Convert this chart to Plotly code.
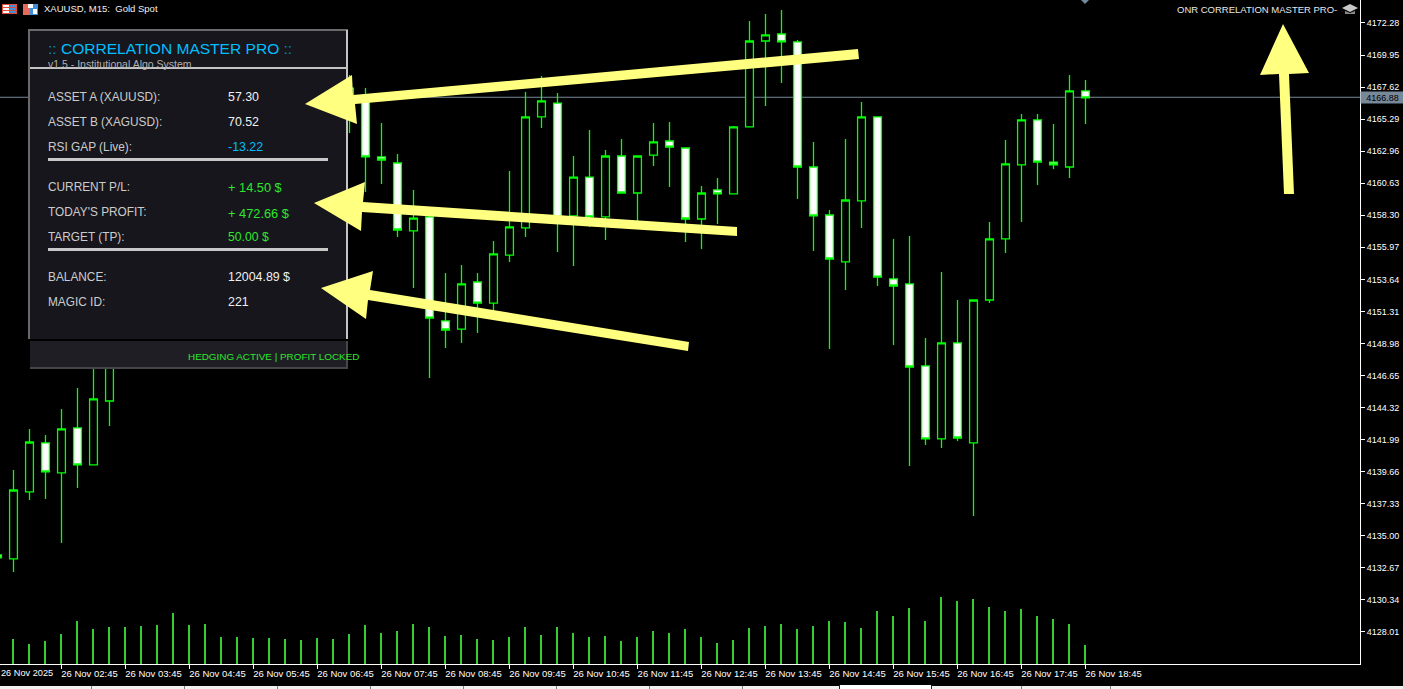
import plotly.graph_objects as go

# bar index, -1 is the doji cut off at the left edge
bars = list(range(-1, 68))

opens = [4133.61, 4133.32, 4138.19, 4141.75, 4139.57, 4142.84, 4140.15, 4144.80, 4148.51, 4149.96,
         4149.60, 4153.23, 4156.50, 4155.78, 4158.69, 4161.59, 4161.23, 4163.77, 4165.59, 4165.23,
         4167.77, 4165.95, 4165.37, 4166.68, 4162.54, 4162.10, 4157.16, 4158.18, 4150.62, 4150.03,
         4153.45, 4151.92, 4155.41, 4157.38, 4165.45, 4166.46, 4158.25, 4161.08, 4158.18, 4162.61,
         4159.92, 4162.68, 4163.70, 4163.19, 4158.03, 4160.14, 4159.85, 4164.72, 4170.97, 4171.48,
         4170.90, 4161.81, 4158.32, 4154.91, 4159.34, 4165.45, 4153.67, 4153.31, 4147.35, 4142.04,
         4149.02, 4141.75, 4152.14, 4156.58, 4161.96, 4165.23, 4162.17, 4161.81, 4167.34]
highs = [4133.61, 4139.79, 4142.77, 4142.33, 4144.22, 4145.75, 4147.78, 4149.60, 4152.14, 4152.14,
         4154.69, 4157.59, 4157.23, 4160.14, 4162.68, 4163.05, 4165.23, 4166.68, 4167.04, 4168.86,
         4169.23, 4168.50, 4168.50, 4167.55, 4165.01, 4162.76, 4160.14, 4158.32, 4154.11, 4154.69,
         4154.11, 4156.43, 4161.52, 4167.26, 4168.43, 4167.19, 4162.61, 4164.50, 4163.05, 4163.85,
         4162.61, 4165.01, 4165.08, 4163.19, 4160.43, 4161.01, 4164.79, 4172.42, 4172.93, 4173.22,
         4171.04, 4163.63, 4158.69, 4163.85, 4166.54, 4165.45, 4156.58, 4156.80, 4149.38, 4154.18,
         4152.14, 4152.14, 4157.81, 4163.77, 4165.66, 4165.66, 4164.94, 4168.50, 4168.13]
lows = [4133.39, 4132.37, 4137.60, 4137.68, 4134.48, 4138.48, 4140.15, 4142.98, 4147.78, 4147.13,
        4148.87, 4152.51, 4153.23, 4155.05, 4157.59, 4158.32, 4160.50, 4162.32, 4163.05, 4164.50,
        4165.23, 4164.86, 4164.28, 4159.99, 4160.58, 4156.72, 4153.02, 4146.47, 4148.65, 4149.02,
        4149.74, 4151.42, 4154.91, 4156.72, 4164.65, 4155.63, 4154.61, 4157.45, 4156.50, 4159.92,
        4157.81, 4161.88, 4160.36, 4156.36, 4155.85, 4157.67, 4159.85, 4164.72, 4166.24, 4167.92,
        4159.48, 4155.70, 4148.58, 4152.87, 4157.38, 4153.16, 4148.87, 4140.08, 4141.60, 4141.38,
        4141.89, 4136.44, 4151.92, 4155.56, 4157.81, 4160.50, 4161.67, 4161.01, 4164.94]
closes = [4133.39, 4138.33, 4141.82, 4139.64, 4142.77, 4140.15, 4144.95, 4148.87, 4150.69, 4148.15,
          4153.60, 4156.50, 4154.32, 4159.05, 4161.59, 4159.41, 4164.14, 4165.59, 4164.14, 4167.77,
          4166.32, 4167.41, 4167.55, 4162.54, 4162.32, 4157.23, 4158.10, 4150.83, 4149.96, 4153.31,
          4151.92, 4155.49, 4157.45, 4165.45, 4166.61, 4158.18, 4161.08, 4158.18, 4162.61, 4159.92,
          4162.61, 4163.63, 4163.26, 4158.03, 4159.92, 4159.85, 4164.72, 4170.97, 4171.41, 4170.90,
          4161.81, 4158.25, 4155.12, 4159.41, 4165.45, 4153.81, 4153.16, 4147.27, 4142.04, 4149.02,
          4142.11, 4152.14, 4156.58, 4162.03, 4165.23, 4162.17, 4161.96, 4167.34, 4166.83]

volume_bars = list(range(0, 68))
volumes = [25, 20, 23, 30, 43, 35, 37, 37, 38, 39, 51, 39, 40, 27, 27, 26, 26, 25, 24, 26,
           25, 30, 39, 31, 33, 40, 37, 28, 29, 25, 24, 27, 37, 29, 37, 31, 27, 28, 23, 27,
           33, 31, 35, 27, 21, 24, 36, 38, 40, 35, 38, 43, 42, 36, 53, 48, 56, 43, 67, 63,
           65, 57, 53, 55, 48, 45, 40, 19]

price_ticks = [4172.28, 4169.95, 4167.62, 4165.29, 4162.96, 4160.63, 4158.30, 4155.97, 4153.64, 4151.31,
               4148.98, 4146.65, 4144.32, 4141.99, 4139.66, 4137.33, 4135.00, 4132.67, 4130.34, 4128.01]
time_ticks = list(range(-1, 68, 4))
time_labels = ["", "26 Nov 02:45", "26 Nov 03:45", "26 Nov 04:45", "26 Nov 05:45", "26 Nov 06:45",
               "26 Nov 07:45", "26 Nov 08:45", "26 Nov 09:45", "26 Nov 10:45", "26 Nov 11:45", "26 Nov 12:45",
               "26 Nov 13:45", "26 Nov 14:45", "26 Nov 15:45", "26 Nov 16:45", "26 Nov 17:45", "26 Nov 18:45"]
first_time_label = "26 Nov 2025"
last_price = 4166.88

W, H = 1403, 689
PLOT_W, PLOT_H = 1360, 664
GREEN = "#00ff00"
ARROW = "#ffff80"
SLATE = "#778899"


def px(x):
    return x / PLOT_W


def py(y):
    return 1 - y / PLOT_H


def poly(points, color):
    path = "M " + " L ".join(f"{px(x):.5f},{py(y):.5f}" for x, y in points) + " Z"
    return dict(type="path", xref="paper", yref="paper", path=path, fillcolor=color, line_width=0, layer="above")


def rect(x0, y0, x1, y1, color):
    return dict(type="rect", xref="paper", yref="paper", x0=px(x0), x1=px(x1), y0=py(y0), y1=py(y1),
                fillcolor=color, line_width=0, layer="above")


def label(x, y, text, color, size=12, anchor="left", font="Liberation Sans"):
    return dict(xref="paper", yref="paper", x=px(x), y=py(y), text=text, showarrow=False, xanchor=anchor,
                yanchor="middle", font=dict(family=font, size=size, color=color), borderpad=0, borderwidth=0)


fig = go.Figure()
fig.add_trace(go.Candlestick(
    x=bars, open=opens, high=highs, low=lows, close=closes,
    increasing=dict(fillcolor="#000000", line=dict(color=GREEN, width=1.3)),
    decreasing=dict(fillcolor="#ffffff", line=dict(color=GREEN, width=1.3)),
    whiskerwidth=0, showlegend=False,
))
fig.add_trace(go.Bar(x=volume_bars, y=volumes, yaxis="y2", width=0.125, offset=-0.08,
                     marker=dict(color="#32cd32", line_width=0), showlegend=False))

shapes = [
    dict(type="line", xref="paper", yref="y", x0=0, x1=1, y0=last_price, y1=last_price,
         line=dict(color=SLATE, width=1), layer="below"),
    # panel
    rect(29, 30, 348, 340, "#16161c"),
    rect(28, 29, 348, 31, "#6a6a6a"),
    rect(28, 29, 30, 339, "#6a6a6a"),
    rect(346, 30, 348, 339, "#c4c4c4"),
    rect(30, 67, 346, 69, "#c4c4c4"),
    rect(48, 158, 328, 161, "#c8c8c8"),
    rect(48, 248, 328, 251, "#c8c8c8"),
    rect(28, 339, 348, 341, "#000000"),
    rect(30, 341, 348, 368, "#1e1e24"),
    rect(30, 367, 348, 369, "#45454a"),
    rect(346, 341, 348, 369, "#45454a"),
    # arrows
    poly([(305, 104), (352, 75), (353, 95), (858, 49), (859, 59), (355, 104), (357, 124)], ARROW),
    poly([(314, 203), (365, 182), (363, 202), (737, 227), (737, 236), (362, 212), (361, 231)], ARROW),
    poly([(321, 288), (373, 271), (370, 290), (689, 342), (688, 351), (368, 300), (366, 319)], ARROW),
    poly([(1283, 24), (1309, 73), (1289, 74), (1294, 194), (1284, 194), (1279, 74), (1260, 75)], ARROW),
    # marker on the top edge
    poly([(1081, 0), (1089, 0), (1085, 4)], SLATE),
    # toolbar icons
    rect(2, 4, 17, 14, "#e04b3a"),
    rect(3, 5, 9, 7, "#ffffff"), rect(3, 8, 9, 10, "#ffffff"), rect(3, 11, 9, 13, "#ffffff"),
    rect(10, 5, 16, 7, "#3f8fd8"), rect(10, 8, 16, 10, "#3f8fd8"), rect(10, 11, 16, 13, "#3f8fd8"),
    rect(23, 4, 30, 15, "#e8685a"), rect(30, 4, 38, 15, "#3f8fd8"),
    rect(28, 4, 33, 8, "#ffffff"), rect(33, 9, 37, 14, "#ffffff"),
    # hat icon
    poly([(1342, 8), (1350, 4), (1358, 8), (1350, 12)], "#c8c8c8"),
    poly([(1345, 11), (1350, 13), (1355, 11), (1355, 14), (1345, 14)], "#8a8a8a"),
    # window tab bar
    rect(0, 686, W, 689, "#f0f0f0"),
    rect(840, 685, 932, 689, "#ffffff"),
    rect(839, 685, 840, 689, "#202020"),
    rect(931, 685, 932, 689, "#202020"),
]
for tab_x in [91, 184, 277, 370, 463, 556, 649, 742, 1021, 1110]:
    shapes.append(rect(tab_x, 686, tab_x + 1, 689, "#808080"))

SILVER = "#cccccc"
VALUE = "#f0f0f0"
BLUE = "#00bfff"
TEXT_GREEN = "#2ee62e"

annotations = [
    label(44, 9, "XAUUSD, M15:  Gold Spot", "#f0f0f0", 9.5),
    label(1337, 9.5, "ONR CORRELATION MASTER PRO-", "#e8e8e8", 9.5, "right"),
    label(48, 48, ":: <span style='color:#00bfff'>CORRELATION MASTER PRO</span> ::", "#0a86b8", 15.55),
    label(48, 64, "v1.5 - Institutional Algo System", "#b0b0b0", 10.5),
    label(48, 97, "ASSET A (XAUUSD):", SILVER, 11.85), label(228, 97, "57.30", VALUE, 12.4),
    label(48, 122, "ASSET B (XAGUSD):", SILVER, 11.85), label(228, 122, "70.52", VALUE, 12.4),
    label(48, 147, "RSI GAP (Live):", SILVER, 11.85), label(228, 147, "-13.22", BLUE, 12.4),
    label(48, 187, "CURRENT P/L:", SILVER, 11.85), label(228, 188, "+ 14.50 $", TEXT_GREEN, 12.8),
    label(48, 212, "TODAY'S PROFIT:", SILVER, 11.85), label(228, 213, "+ 472.66 $", TEXT_GREEN, 12.8),
    label(48, 237, "TARGET (TP):", SILVER, 11.85), label(228, 237, "50.00 $", TEXT_GREEN, 12.2),
    label(48, 277, "BALANCE:", SILVER, 11.85), label(228, 277, "12004.89 $", VALUE, 12.4),
    label(48, 302, "MAGIC ID:", SILVER, 11.85), label(228, 302, "221", VALUE, 12.4),
    label(188, 356, "HEDGING ACTIVE | PROFIT LOCKED", TEXT_GREEN, 9.9),
    label(1, 673, first_time_label, "#ffffff", 9.2),
    dict(xref="paper", yref="y", x=(1382 / PLOT_W), y=last_price, text="4166.88", showarrow=False,
         bgcolor=SLATE, font=dict(family="Liberation Sans", size=9, color="#000000"), borderpad=1,
         xanchor="center", yanchor="middle", width=41, height=9),
]

fig.update_layout(
    width=W, height=H,
    margin=dict(l=0, r=W - PLOT_W, t=0, b=H - PLOT_H, pad=0),
    paper_bgcolor="#000000",
    plot_bgcolor="#000000",
    boxgap=0.3,
    bargap=0,
    hovermode=False,
    shapes=shapes,
    annotations=annotations,
    xaxis=dict(
        range=[-0.844, 84.156], rangeslider_visible=False, showgrid=False, zeroline=False,
        showline=True, linecolor="#ffffff", linewidth=1,
        tickmode="array", tickvals=time_ticks, ticktext=time_labels, ticks="outside", ticklen=4,
        tickcolor="#ffffff", tickwidth=1, ticklabelshift=28, ticklabelstandoff=-3, tickangle=0,
        tickfont=dict(family="Liberation Sans", size=9.5, color="#ffffff"),
    ),
    yaxis=dict(
        range=[4125.68, 4173.95], side="right", showgrid=False, zeroline=False,
        showline=True, linecolor="#ffffff", linewidth=1,
        tickmode="array", tickvals=price_ticks, ticktext=[f"{v:.2f}" for v in price_ticks],
        ticks="outside", ticklen=4, tickcolor="#ffffff", tickwidth=1,
        tickfont=dict(family="Liberation Sans", size=9, color="#ffffff"),
    ),
    yaxis2=dict(range=[0, PLOT_H], overlaying="y", visible=False),
)

fig.write_html(
    "out.html",
    config={"displayModeBar": False},
    post_script="document.body.style.margin='0';document.body.style.overflow='hidden';",
)
